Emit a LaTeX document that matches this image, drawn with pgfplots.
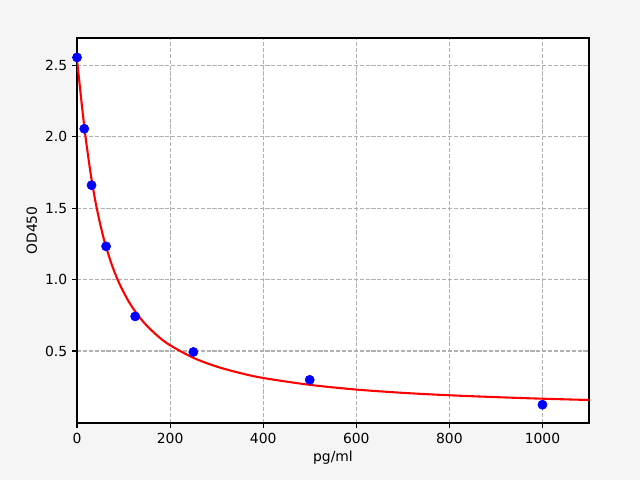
\documentclass[border=0pt]{standalone}
\usepackage{fontspec}
\setmainfont{DejaVu Sans}
\usepackage{pgfplots}
\pgfplotsset{compat=1.18}
\definecolor{figbg}{RGB}{245,245,245}
\definecolor{gridgray}{RGB}{176,176,176}
\begin{document}
\begin{tikzpicture}
\fill[figbg] (0,0) rectangle (460.8pt,345.6pt);
\path[use as bounding box] (0,0) rectangle (460.8pt,345.6pt);
\begin{axis}[
    at={(55.44pt,41.04pt)}, anchor=south west,
    scale only axis,
    width=368.64pt, height=277.2pt,
    xmin=0, xmax=1100,
    ymin=-0.004, ymax=2.69,
    xtick={0,200,400,600,800,1000},
    ytick={0.5,1.0,1.5,2.0,2.5},
    yticklabel style={/pgf/number format/.cd,fixed,fixed zerofill,precision=1},
    xticklabel style={/pgf/number format/.cd,fixed,1000 sep={}},
    scaled ticks=false,
    /pgf/number format/assume math mode=true,
    tick align=outside,
    major tick length=3.5pt,
    tick style={black, line width=0.8pt},
    xtick pos=bottom, ytick pos=left,
    axis line style={black, line width=0.8pt},
    axis background/.style={fill=white},
    axis on top=false,
    grid=major,
    major grid style={gridgray, line width=0.8pt, dash pattern=on 2.96pt off 1.28pt},
    xlabel={pg/ml}, ylabel={OD450},
    label style={font=\fontsize{10}{12}\selectfont},
    ticklabel style={font=\fontsize{10}{12}\selectfont},
    xlabel style={yshift=1pt},
    ylabel style={yshift=-1pt},
]
% fitted standard curve
\addplot[red, line width=1.5pt, smooth] coordinates {
    (0,2.530) (1,2.506) (2,2.478) (5,2.387) (10,2.233) (15,2.088) (20,1.956)
    (30,1.727) (40,1.539) (50,1.385) (60,1.256) (75,1.101) (90,0.979)
    (110,0.852) (130,0.754) (150,0.677) (175,0.600) (200,0.540) (250,0.452)
    (300,0.391) (350,0.346) (400,0.311) (500,0.263) (600,0.230) (700,0.207)
    (800,0.190) (900,0.177) (1000,0.166) (1100,0.157)
};
% measured standards
\addplot[only marks, mark=*, mark size=3.3pt, color=blue, mark options={fill=blue, draw=blue}] coordinates {
    (0,2.554) (15.625,2.055) (31.25,1.660) (62.5,1.232)
    (125,0.742) (250,0.493) (500,0.298) (1000,0.124)
};
\end{axis}
\end{tikzpicture}
\end{document}
